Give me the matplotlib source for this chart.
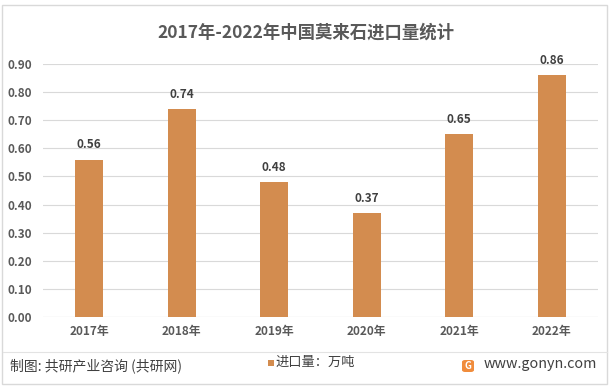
import matplotlib
matplotlib.use("Agg")
import matplotlib.pyplot as plt
from matplotlib.patches import Rectangle, FancyBboxPatch
from matplotlib.lines import Line2D

plt.rcParams['font.family'] = ['Noto Sans CJK SC', 'DejaVu Sans']

years = ["2017年", "2018年", "2019年", "2020年", "2021年", "2022年"]
values = [0.56, 0.74, 0.48, 0.37, 0.65, 0.86]
yticks = [0.0, 0.1, 0.2, 0.3, 0.4, 0.5, 0.6, 0.7, 0.8, 0.9]
title = "2017年-2022年中国莫来石进口量统计"
legend_label = "进口量：万吨"
source = "制图: 共研产业咨询 (共研网)"
site = "www.gonyn.com"

bar_color = "#D38C4F"
text_color = "#595959"

W, H = 612, 388
fig = plt.figure(figsize=(W / 100, H / 100), dpi=100)
fig.patch.set_facecolor("white")

# outer border
fig.add_artist(Rectangle((2 / W, 1 - 384 / H), 605 / W, 379 / H, transform=fig.transFigure,
                         fill=False, edgecolor="#D9D9D9", linewidth=1.0))
# separator line above footer
fig.add_artist(Line2D([3 / W, 607 / W], [1 - 352 / H, 1 - 352 / H], transform=fig.transFigure,
                      color="#E3E3E3", linewidth=0.8))

ax = fig.add_axes([43 / W, 1 - 317 / H, 555 / W, 253 / H])
x = range(len(years))
ax.bar(x, values, width=0.30, color=bar_color, zorder=3)
ax.set_xlim(-0.5, len(years) - 0.5)
ax.set_ylim(0, 0.9)
ax.set_yticks(yticks)
ax.set_yticklabels([f"{v:.2f}" for v in yticks], fontsize=8.5, color=text_color, fontweight="bold")
ax.set_xticks(list(x))
ax.set_xticklabels(years, fontsize=8.5, color=text_color, fontweight="bold")
ax.tick_params(axis="both", length=0, pad=6)
ax.tick_params(axis="y", pad=8)
ax.grid(axis="y", color="#D9D9D9", linewidth=0.8, zorder=0)
for s in ax.spines.values():
    s.set_visible(False)
ax.axhline(0, color="#D9D9D9", linewidth=0.8, zorder=1)
for xi, v in zip(x, values):
    ax.text(xi, v + 0.03, f"{v:.2f}", ha="center", va="bottom", fontsize=8.5,
            color="#404040", fontweight="bold")

fig.text(0.5, 1 - 33 / H, title, ha="center", va="center", fontsize=12.5,
         fontweight="bold", color=text_color)

# footer
fig.text(10 / W, 1 - 366 / H, source, ha="left", va="center", fontsize=10, color="#404040")
fig.add_artist(Rectangle((268 / W, 1 - 366 / H), 6 / W, 6 / H, transform=fig.transFigure,
                         facecolor=bar_color, edgecolor="none"))
fig.text(275 / W, 1 - 362 / H, legend_label, ha="left", va="center", fontsize=9.5, color="#404040")
fig.add_artist(FancyBboxPatch((462 / W, 1 - 372 / H), 12 / W, 12 / H, transform=fig.transFigure,
                              boxstyle="round,pad=0,rounding_size=0.005",
                              facecolor="#F08C3C", edgecolor="none"))
fig.text(468 / W, 1 - 366 / H, "G", ha="center", va="center", fontsize=7, color="white",
         fontweight="bold")
fig.text(484 / W, 1 - 364 / H, site, ha="left", va="center", fontsize=10.3, color="#404040")

fig.savefig("out.png", dpi=100)
